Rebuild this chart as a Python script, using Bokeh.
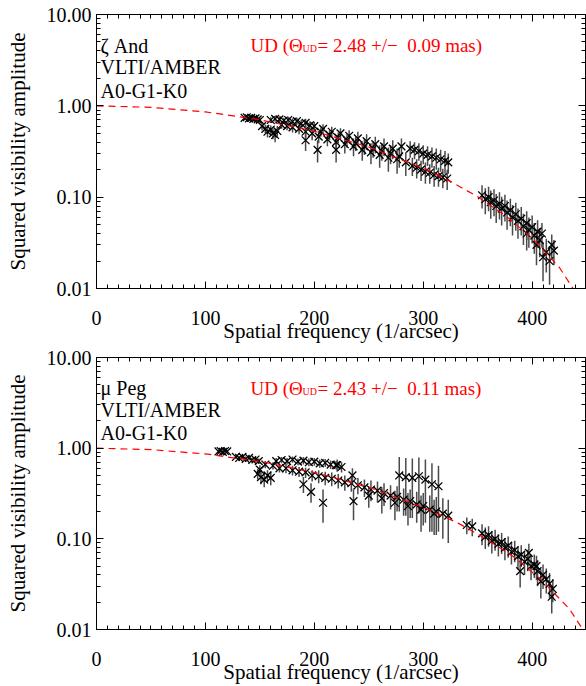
from bokeh.plotting import figure
from bokeh.layouts import column
from bokeh.models import (Range1d, LogAxis, LinearAxis, FixedTicker,
                          CustomJSTickFormatter, Label, ColumnDataSource)
from bokeh.embed import file_html
from bokeh.resources import INLINE

FONT = "Liberation Serif"

# ---------------- data: zeta And ----------------
zand_freq = [136, 138, 140, 142, 144, 146, 148, 150,
             152, 155, 157, 160, 162, 164, 166,
             160, 164, 168, 172, 176, 180, 184, 188, 192, 196,
             170, 175, 180, 186, 192, 198,
             203, 220, 192,
             200, 204, 208, 212, 216, 220, 224, 228, 232, 236, 240, 244, 248, 252, 256, 260, 264, 268, 272, 276, 280, 284,
             206, 214, 222, 230, 238, 246, 254, 262, 270, 278,
             288, 292, 296, 300, 304, 308, 312, 316, 320, 323,
             290, 294, 298, 302, 306, 310, 314, 318, 322,
             354, 357, 360, 362, 365, 367, 370, 372, 375, 377, 380, 382, 385, 387, 390,
             392, 395, 397, 400, 402, 405, 407, 409, 410, 413, 416, 418, 420, 404, 395]
zand_v2 = [0.74, 0.75, 0.73, 0.74, 0.72, 0.73, 0.71, 0.70,
           0.60, 0.56, 0.52, 0.55, 0.50, 0.48, 0.53,
           0.70, 0.72, 0.71, 0.69, 0.70, 0.67, 0.68, 0.64, 0.65, 0.61,
           0.62, 0.60, 0.58, 0.56, 0.52, 0.50,
           0.33, 0.33, 0.42,
           0.60, 0.46, 0.56, 0.43, 0.52, 0.40, 0.50, 0.38, 0.47, 0.36, 0.44, 0.33, 0.41, 0.31, 0.38, 0.29, 0.36, 0.27, 0.34, 0.26, 0.36, 0.24,
           0.52, 0.48, 0.45, 0.42, 0.39, 0.36, 0.34, 0.32, 0.30, 0.28,
           0.34, 0.33, 0.32, 0.30, 0.29, 0.28, 0.27, 0.26, 0.25, 0.24,
           0.22, 0.21, 0.20, 0.19, 0.185, 0.175, 0.17, 0.165, 0.16,
           0.105, 0.095, 0.100, 0.088, 0.092, 0.080, 0.085, 0.075, 0.080, 0.068, 0.072, 0.060, 0.065, 0.055, 0.058,
           0.048, 0.052, 0.044, 0.047, 0.038, 0.042, 0.034, 0.040, 0.022, 0.025, 0.020, 0.030, 0.026, 0.030, 0.040]
zand_err = [0.03, 0.03, 0.03, 0.04, 0.03, 0.04, 0.04, 0.04,
            0.06, 0.06, 0.07, 0.06, 0.07, 0.08, 0.07,
            0.05, 0.05, 0.06, 0.05, 0.06, 0.06, 0.06, 0.06, 0.07, 0.07,
            0.06, 0.06, 0.07, 0.07, 0.08, 0.08,
            0.09, 0.09, 0.10,
            0.07, 0.07, 0.07, 0.07, 0.07, 0.08, 0.07, 0.08, 0.07, 0.08, 0.08, 0.08, 0.08, 0.08, 0.08, 0.08, 0.08, 0.08, 0.08, 0.08, 0.08, 0.07,
            0.06, 0.06, 0.06, 0.07, 0.07, 0.07, 0.07, 0.07, 0.07, 0.07,
            0.07, 0.07, 0.07, 0.07, 0.07, 0.07, 0.07, 0.07, 0.07, 0.06,
            0.05, 0.05, 0.05, 0.05, 0.045, 0.045, 0.04, 0.04, 0.04,
            0.030, 0.030, 0.030, 0.030, 0.030, 0.028, 0.028, 0.026, 0.026, 0.024, 0.024, 0.022, 0.022, 0.020, 0.020,
            0.018, 0.018, 0.016, 0.016, 0.014, 0.014, 0.012, 0.012, 0.010, 0.010, 0.009, 0.009, 0.008, 0.012, 0.014]

zand_ud_freq = [0, 50, 100, 150, 200, 250, 300, 325, 350, 375, 400, 425, 450]
zand_ud_v2 = [1.0, 0.963, 0.858, 0.704, 0.527, 0.354, 0.208, 0.149, 0.101, 0.0634, 0.0357, 0.0170, 0.0059]

# ---------------- data: mu Peg ----------------
mupeg_freq = [112, 114, 116, 118, 120,
              128, 131, 134, 137, 140, 143, 146, 149,
              148, 151, 154, 157, 160, 150,
              165, 170, 175, 180, 185, 190, 195, 200, 205, 210, 215, 220, 225,
              155, 162, 168, 174, 180, 186, 192, 198, 204, 210, 216, 222, 228, 234, 240,
              197, 208, 221, 235, 236, 190,
              246, 252, 258, 264, 270, 276, 282, 288, 294, 300, 306, 312, 318, 323,
              250, 262, 274, 286, 298, 310,
              278, 284, 290, 296, 302, 308, 314,
              340, 345, 354, 357, 360, 363, 366, 369, 372, 375, 378, 381, 384, 387, 389,
              390, 393, 396, 397, 399, 402, 404, 405, 408, 410, 413, 416, 418, 419]
mupeg_v2 = [0.92, 0.93, 0.91, 0.93, 0.92,
            0.80, 0.78, 0.80, 0.76, 0.78, 0.74, 0.75, 0.72,
            0.52, 0.48, 0.45, 0.50, 0.47, 0.58,
            0.72, 0.74, 0.72, 0.75, 0.71, 0.73, 0.70, 0.71, 0.68, 0.69, 0.66, 0.65, 0.62,
            0.66, 0.64, 0.60, 0.60, 0.57, 0.55, 0.54, 0.50, 0.49, 0.47, 0.46, 0.44, 0.42, 0.41, 0.39,
            0.33, 0.25, 0.65, 0.50, 0.26, 0.40,
            0.37, 0.35, 0.34, 0.32, 0.30, 0.29, 0.27, 0.26, 0.24, 0.23, 0.21, 0.20, 0.19, 0.18,
            0.30, 0.28, 0.25, 0.23, 0.21, 0.19,
            0.50, 0.48, 0.47, 0.49, 0.45, 0.40, 0.38,
            0.142, 0.137, 0.115, 0.105, 0.110, 0.095, 0.100, 0.088, 0.092, 0.080, 0.084, 0.072, 0.075, 0.064, 0.044,
            0.067, 0.056, 0.060, 0.070, 0.050, 0.052, 0.050, 0.044, 0.034, 0.040, 0.036, 0.032, 0.023, 0.028]
mupeg_err = [0.03, 0.03, 0.03, 0.03, 0.03,
             0.04, 0.04, 0.04, 0.05, 0.05, 0.05, 0.05, 0.05,
             0.07, 0.08, 0.08, 0.07, 0.08, 0.07,
             0.06, 0.06, 0.06, 0.06, 0.06, 0.07, 0.07, 0.07, 0.07, 0.07, 0.07, 0.07, 0.08,
             0.06, 0.06, 0.06, 0.07, 0.07, 0.07, 0.07, 0.07, 0.08, 0.08, 0.08, 0.08, 0.08, 0.08, 0.08,
             0.08, 0.10, 0.10, 0.10, 0.10, 0.08,
             0.08, 0.09, 0.09, 0.09, 0.09, 0.09, 0.09, 0.09, 0.09, 0.09, 0.09, 0.09, 0.09, 0.09,
             0.08, 0.09, 0.09, 0.09, 0.09, 0.08,
             0.30, 0.30, 0.30, 0.30, 0.30, 0.28, 0.26,
             0.030, 0.030, 0.030, 0.028, 0.028, 0.026, 0.026, 0.024, 0.024, 0.022, 0.022, 0.020, 0.020, 0.018, 0.015,
             0.018, 0.016, 0.016, 0.018, 0.015, 0.015, 0.015, 0.014, 0.012, 0.012, 0.011, 0.010, 0.008, 0.008]

mupeg_ud_freq = [0, 51, 102, 153, 204, 255, 306, 332, 357, 383, 408, 434, 459]
mupeg_ud_v2 = [1.0, 0.963, 0.858, 0.704, 0.527, 0.354, 0.208, 0.149, 0.101, 0.0634, 0.0357, 0.0170, 0.0059]

x_major = [0, 100, 200, 300, 400]
x_minor = list(range(0, 450, 10))
y_major = [0.01, 0.1, 1.0, 10.0]
y_minor = [m * d for d in (0.01, 0.1, 1.0) for m in range(1, 11)]


def style_axis(ax):
    ax.axis_line_color = "black"
    ax.axis_line_width = 1
    ax.major_tick_in = 7
    ax.major_tick_out = 0
    ax.minor_tick_in = 4
    ax.minor_tick_out = 0
    ax.major_tick_line_color = "black"
    ax.minor_tick_line_color = "black"
    ax.major_label_text_font = FONT
    ax.major_label_text_font_size = "20px"
    ax.major_label_text_color = "black"
    ax.axis_label_text_font = FONT
    ax.axis_label_text_font_size = "21px"
    ax.axis_label_text_font_style = "normal"
    ax.axis_label_text_color = "black"


def make_panel(freq, v2, err, ud_f, ud_v, star, diam, diam_err, height, top_border, bottom_border):
    p = figure(width=586, height=height, x_range=Range1d(0, 449), y_range=Range1d(0.01, 10),
               y_axis_type="log", output_backend="svg", toolbar_location=None,
               min_border_left=96, min_border_right=1, min_border_top=top_border,
               min_border_bottom=bottom_border)
    p.xgrid.visible = False
    p.ygrid.visible = False
    p.outline_line_color = "black"
    p.outline_line_width = 1
    p.background_fill_color = "white"
    p.border_fill_color = "white"

    xt = FixedTicker(ticks=x_major, minor_ticks=x_minor)
    yt = FixedTicker(ticks=y_major, minor_ticks=y_minor)

    xa = p.xaxis[0]
    xa.ticker = xt
    style_axis(xa)
    xa.major_label_standoff = 22
    xa.axis_label = "Spatial frequency (1/arcsec)"
    xa.axis_label_standoff = -9

    ya = p.yaxis[0]
    ya.ticker = yt
    ya.formatter = CustomJSTickFormatter(code="return tick.toFixed(2);")
    style_axis(ya)
    ya.major_label_standoff = 5
    ya.axis_label = "Squared visibility amplitude"
    ya.axis_label_standoff = 14

    empty = CustomJSTickFormatter(code="return '';")
    top = LinearAxis(ticker=xt, formatter=empty)
    style_axis(top)
    top.major_label_text_font_size = "0px"
    top.major_label_standoff = 0
    p.add_layout(top, "above")
    right = LogAxis(ticker=yt, formatter=empty)
    style_axis(right)
    right.major_label_text_font_size = "0px"
    right.major_label_standoff = 0
    p.add_layout(right, "right")

    lo = [max(v - e, 1e-4) for v, e in zip(v2, err)]
    hi = [v + e for v, e in zip(v2, err)]
    src = ColumnDataSource(dict(f=freq, v=v2, lo=lo, hi=hi))
    p.segment(x0="f", y0="lo", x1="f", y1="hi", source=src, line_color="#4a4a4a", line_width=1.5)
    p.scatter(x="f", y="v", source=src, marker="x", size=11, line_color="black", line_width=1.3)
    p.line(ud_f, ud_v, line_color="red", line_width=1.2, line_dash="7 5")

    for txt, yv in ((star, 4.57), ("VLTI/AMBER", 2.63), ("A0-G1-K0", 1.47)):
        p.add_layout(Label(x=3.7, y=yv, text=txt, text_font=FONT, text_font_size="20px",
                           text_color="black", text_baseline="alphabetic"))
    p.add_layout(Label(x=141.4, y=4.57, text="UD (\u0398", text_font=FONT, text_font_size="19px",
                       text_color="red", text_baseline="alphabetic"))
    p.add_layout(Label(x=189.1, y=4.25, text="UD", text_font=FONT, text_font_size="10px",
                       text_color="red", text_baseline="alphabetic"))
    p.add_layout(Label(x=202.9, y=4.57, text="= %s +/\u2212 \u00a0%s mas)" % (diam, diam_err),
                       text_font=FONT, text_font_size="19px",
                       text_color="red", text_baseline="alphabetic"))
    return p


p1 = make_panel(zand_freq, zand_v2, zand_err, zand_ud_freq, zand_ud_v2,
                "\u03b6 And", "2.48", "0.09", 345, 14, 56)
p2 = make_panel(mupeg_freq, mupeg_v2, mupeg_err, mupeg_ud_freq, mupeg_ud_v2,
                "\u03bc Peg", "2.43", "0.11", 341, 12, 55)

layout = column(p1, p2, spacing=0)
open("out.html", "w").write(file_html(layout, INLINE))
